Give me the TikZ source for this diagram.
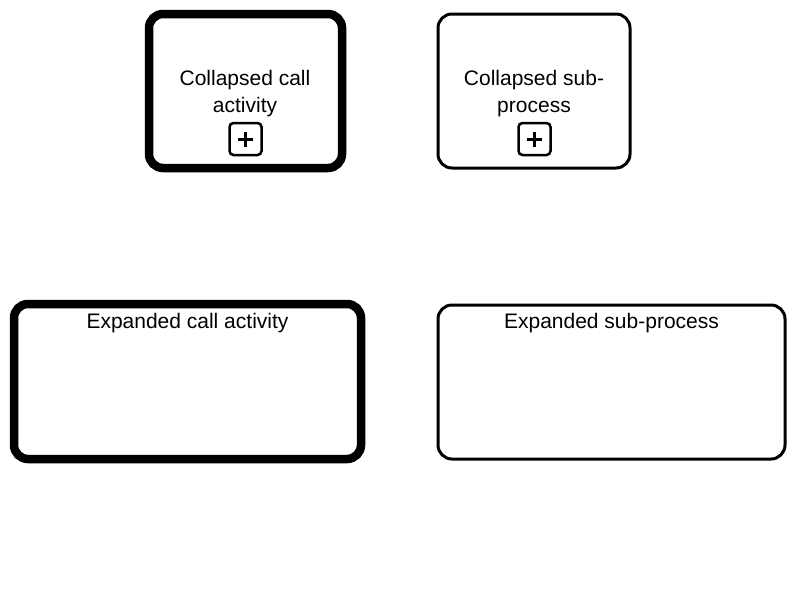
\documentclass[tikz,border=0pt]{standalone}
\usepackage{fontspec}
\setmainfont{Liberation Sans}
\begin{document}
\begin{tikzpicture}[x=1pt,y=-1pt,
  task/.style={draw=black,fill=white,rounded corners=14pt,inner sep=0pt,outer sep=0pt},
  callact/.style={task,line width=8.5pt},
  subproc/.style={task,line width=3pt},
  marker/.style={draw=black,rounded corners=4pt,line width=2.5pt,minimum width=32pt,minimum height=32pt,inner sep=0pt},
  lbl/.style={font=\fontsize{21pt}{27pt}\selectfont,align=center,inner sep=0pt,anchor=base}
]
\useasboundingbox (0,0) rectangle (800,600);
% collapsed call activity
\node[callact,minimum width=193pt,minimum height=154pt] (cca) at (245.5,91) {};
\node[lbl] (ccat1) at (245,85) {Collapsed call};
\node[lbl] (ccat2) at (245,112) {activity};
\node[marker] (ccam) at (245.5,139) {};
\draw[line width=3pt] ([xshift=-7.5pt]ccam.center) -- ([xshift=7.5pt]ccam.center);
\draw[line width=3pt] ([yshift=-7.5pt]ccam.center) -- ([yshift=7.5pt]ccam.center);
% collapsed sub-process
\node[subproc,minimum width=192pt,minimum height=154pt] (csp) at (534,91) {};
\node[lbl] (cspt1) at (534,85) {Collapsed sub-};
\node[lbl] (cspt2) at (534,112) {process};
\node[marker] (cspm) at (534.5,139) {};
\draw[line width=3pt] ([xshift=-7.5pt]cspm.center) -- ([xshift=7.5pt]cspm.center);
\draw[line width=3pt] ([yshift=-7.5pt]cspm.center) -- ([yshift=7.5pt]cspm.center);
% expanded call activity
\node[callact,minimum width=347pt,minimum height=155pt] (eca) at (187.5,381.5) {};
\node[lbl] (ecat) at (187.5,328) {Expanded call activity};
% expanded sub-process
\node[subproc,minimum width=347pt,minimum height=154pt] (esp) at (611.5,382) {};
\node[lbl] (espt) at (611.5,328) {Expanded sub-process};
\end{tikzpicture}
\end{document}
